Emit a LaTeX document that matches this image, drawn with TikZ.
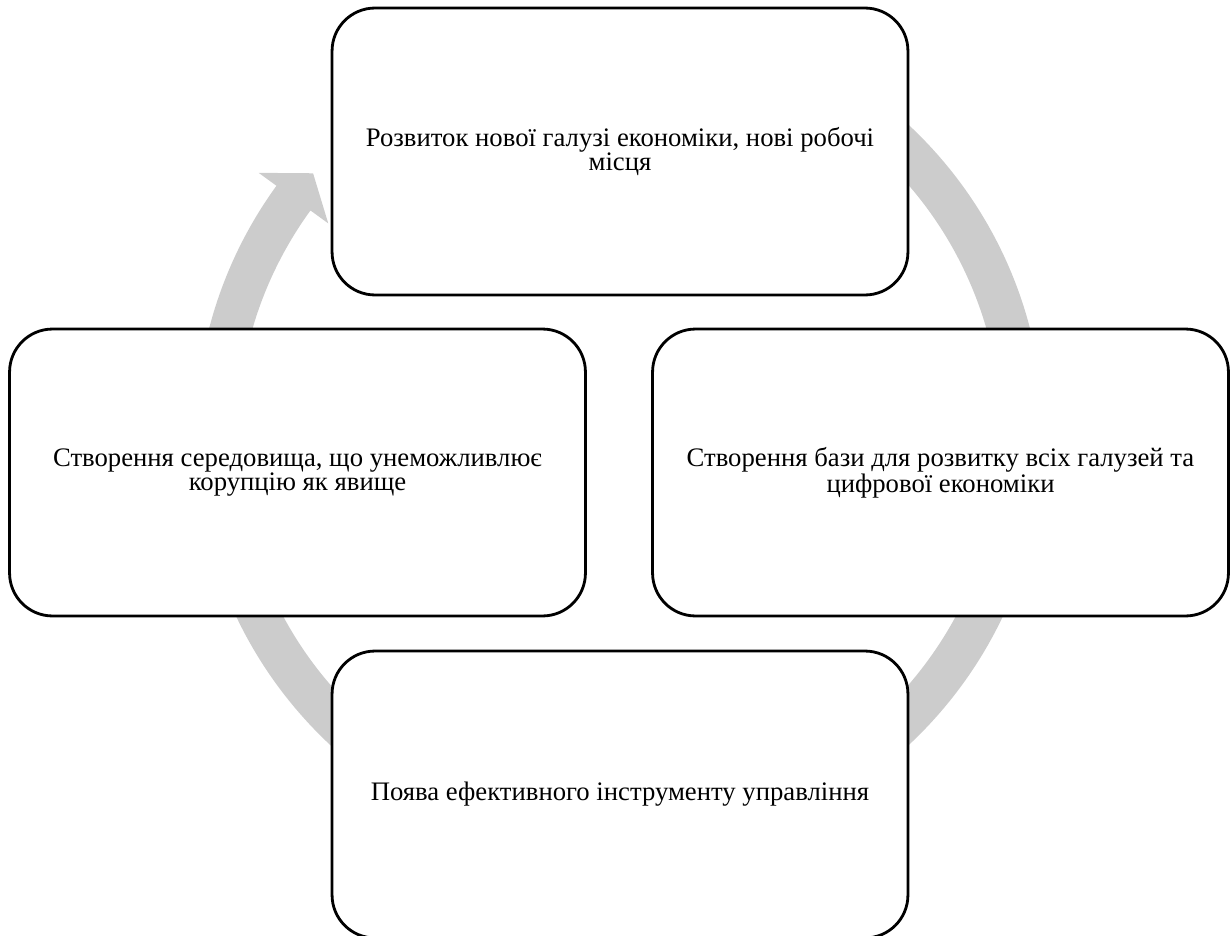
\documentclass[tikz,border=0pt]{standalone}
\usepackage{fontspec}
\setmainfont{Liberation Serif}
\tikzset{
    stagebox/.style = {rectangle, rounded corners=0.86cm, line width=1.6pt, draw=black, fill=white, minimum width=11.52cm, minimum height=5.74cm, inner sep=0pt, align=center, font=\fontsize{15.2}{13.7}\selectfont},
    ringarrow/.style = {fill=black!20, draw=none}, % cycle behind the boxes
}
\begin{document}
\begin{tikzpicture}[x=0.02cm,y=0.02cm]
\useasboundingbox (0,0) rectangle (1230,-936);
% ring arrow, tail hidden under the top box
\fill[ringarrow,shift={(619.5,-435)}] (90:424) arc[start angle=90, end angle=-216, radius=424]
    -- (-216:446) -- (-220.5:403) -- (-216:360) -- (-216:382)
    arc[start angle=-216, end angle=90, radius=382] -- cycle;
%
\node[stagebox] at (620,  -151.5) (top)    {Розвиток нової галузі економіки, нові робочі\\місця};
\node[stagebox] at (940.5,-472.5) (right)  {Створення бази для розвитку всіх галузей та\\цифрової економіки};
\node[stagebox] at (620,  -794.5) (bottom) {Поява ефективного інструменту управління};
\node[stagebox] at (297.5,-472.5) (left)   {Створення середовища, що унеможливлює\\корупцію як явище};
\end{tikzpicture}
\end{document}
